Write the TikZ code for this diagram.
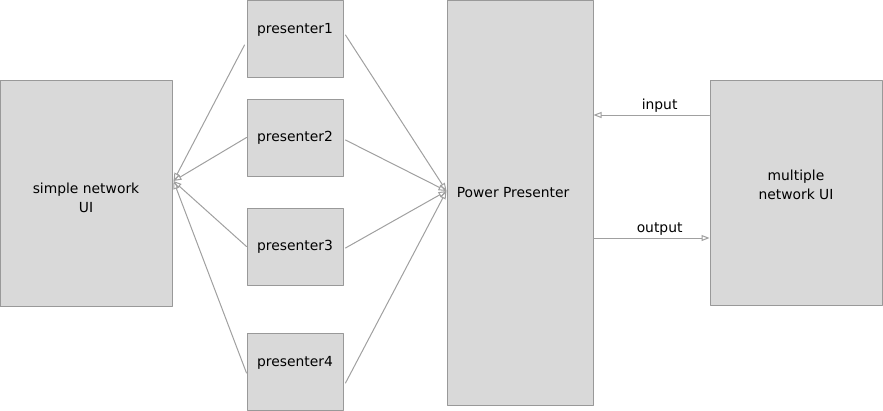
\documentclass[tikz,border=0pt]{standalone}
\usepackage{fontspec}
\setmainfont{DejaVu Sans}
\usetikzlibrary{arrows.meta,calc}
\definecolor{boxgray}{HTML}{D9D9D9}
\definecolor{edgegray}{HTML}{999999}
\definecolor{linegray}{HTML}{A0A0A0}
\tikzset{
	box/.style={draw=edgegray, fill=boxgray, line width=0.75pt, inner sep=0pt, align=center},
	pbox/.style={box, minimum width=72pt, minimum height=57.75pt},
	conn/.style={draw=linegray, line width=0.75pt, -{Triangle[open,length=6pt,width=4.5pt]}},
	lbl/.style={above, inner sep=1.5pt}
}
\begin{document}
\begin{tikzpicture}[x=0.75pt,y=-0.75pt,font=\fontsize{10.4}{14.3}\selectfont, line join=round, line cap=round]
	\useasboundingbox (0,0) rectangle (883,411);
	% boxes
	\node[box, minimum width=129pt, minimum height=169.5pt, label={[align=center, yshift=-3.75pt]center:simple network\\UI}] (simple) at (86,193) {};
	\node[pbox, label={[yshift=6.4pt]center:presenter1}] (p1) at (295,38.5) {};
	\node[pbox] (p2) at (295,137.5) {presenter2};
	\node[pbox] (p3) at (295,246.5) {presenter3};
	\node[pbox, label={[yshift=6.8pt]center:presenter4}] (p4) at (295,371.5) {};
	\node[box, minimum width=109.5pt, minimum height=303.75pt] (power) at (520,202.5) {};
	\node[box, minimum width=129pt, minimum height=168.75pt, label={[align=center, yshift=6pt]center:multiple\\network UI}] (mult) at (796,192.5) {};
	\coordinate (sin) at ($(simple.east)+(1,-12)$);
	\coordinate (pin) at ($(power.west)+(0,-11.5)$);
	\node[anchor=west, inner sep=0pt] (ptext) at ($(pin)+(10,1.5)$) {Power Presenter};
	% presenters -> simple network UI
	\draw[conn] ($(p1.west)+(-2,6.5)$) -- (sin);
	\draw[conn] (p2.west) -- (sin);
	\draw[conn] (p3.west) -- (sin);
	\draw[conn] ($(p4.west)+(0,1.5)$) -- (sin);
	% presenters -> power presenter
	\draw[conn] ($(p1.east)+(2,-3.5)$) -- (pin);
	\draw[conn] ($(p2.east)+(2,2.5)$) -- (pin);
	\draw[conn] ($(p3.east)+(2,1.5)$) -- (pin);
	\draw[conn] ($(p4.east)+(2,11.5)$) -- (pin);
	% input / output
	\coordinate (inp) at ($(mult.west)+(0,-77.5)$);
	\coordinate (outp) at ($(power.east)+(0,35.5)$);
	\draw[conn] (inp) -- node[lbl, pos=0.43] {input} (inp -| power.east);
	\draw[conn] (outp) -- node[lbl, pos=0.57] {output} (outp -| mult.west);
\end{tikzpicture}
\end{document}
